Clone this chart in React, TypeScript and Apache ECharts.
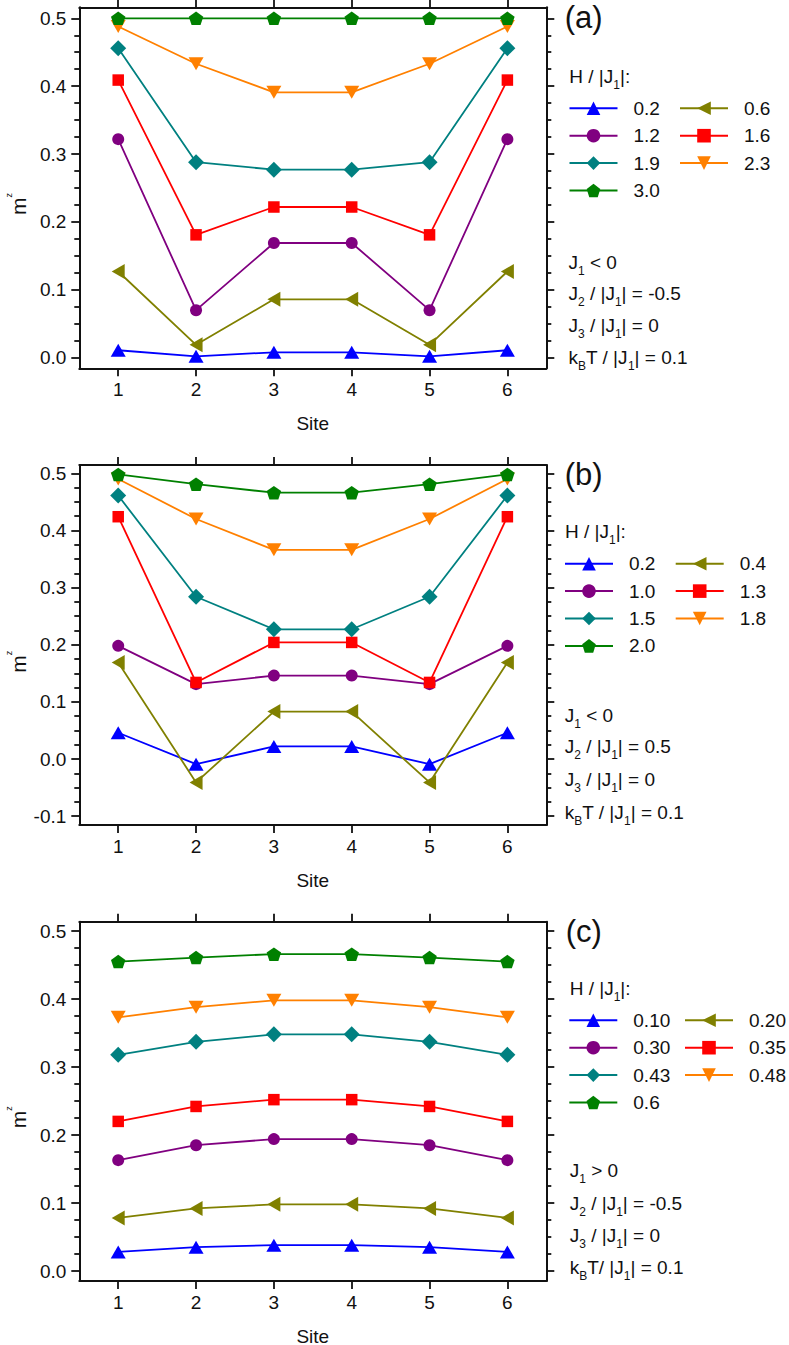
import React, { useEffect, useRef } from "react";
import * as echarts from "echarts";

const FONT = '"Liberation Sans", Arial, Helvetica, sans-serif';
const INK = "#111111";

// ---------- categories ----------
const sites = ["1", "2", "3", "4", "5", "6"];

// ---------- y tick labels ----------
const yTicksA = [0, 0.1, 0.2, 0.3, 0.4, 0.5];
const yTicksB = [-0.1, 0, 0.1, 0.2, 0.3, 0.4, 0.5];
const yTicksC = [0, 0.1, 0.2, 0.3, 0.4, 0.5];

// ---------- panel (a) : J1<0, J2/|J1| = -0.5 ----------
const namesA = ["0.2", "0.6", "1.2", "1.6", "1.9", "2.3", "3.0"];
const a_02 = [0.011, 0.002, 0.008, 0.008, 0.002, 0.011];
const a_06 = [0.127, 0.019, 0.086, 0.086, 0.019, 0.127];
const a_12 = [0.322, 0.070, 0.169, 0.169, 0.070, 0.322];
const a_16 = [0.409, 0.181, 0.222, 0.222, 0.181, 0.409];
const a_19 = [0.456, 0.288, 0.277, 0.277, 0.288, 0.456];
const a_23 = [0.488, 0.433, 0.391, 0.391, 0.433, 0.488];
const a_30 = [0.5, 0.5, 0.5, 0.5, 0.5, 0.5];

// ---------- panel (b) : J1<0, J2/|J1| = 0.5 ----------
const namesB = ["0.2", "0.4", "1.0", "1.3", "1.5", "1.8", "2.0"];
const b_02 = [0.046, -0.009, 0.022, 0.022, -0.009, 0.046];
const b_04 = [0.169, -0.041, 0.083, 0.083, -0.041, 0.169];
const b_10 = [0.198, 0.131, 0.146, 0.146, 0.131, 0.198];
const b_13 = [0.424, 0.134, 0.204, 0.204, 0.134, 0.424];
const b_15 = [0.461, 0.284, 0.227, 0.227, 0.284, 0.461];
const b_18 = [0.490, 0.420, 0.366, 0.366, 0.420, 0.490];
const b_20 = [0.498, 0.481, 0.466, 0.466, 0.481, 0.498];

// ---------- panel (c) : J1>0, J2/|J1| = -0.5 ----------
const namesC = ["0.10", "0.20", "0.30", "0.35", "0.43", "0.48", "0.6"];
const c_010 = [0.028, 0.035, 0.038, 0.038, 0.035, 0.028];
const c_020 = [0.078, 0.092, 0.098, 0.098, 0.092, 0.078];
const c_030 = [0.163, 0.185, 0.194, 0.194, 0.185, 0.163];
const c_035 = [0.220, 0.242, 0.252, 0.252, 0.242, 0.220];
const c_043 = [0.318, 0.337, 0.348, 0.348, 0.337, 0.318];
const c_048 = [0.373, 0.388, 0.398, 0.398, 0.388, 0.373];
const c_06 = [0.455, 0.461, 0.466, 0.466, 0.461, 0.455];

// ---------- texts ----------
const panelLabels = ["(a)", "(b)", "(c)"];
const legendTitle = "H / |J{s|1}|:";
const paramsA = ["J{s|1} < 0", "J{s|2} / |J{s|1}| = -0.5", "J{s|3} / |J{s|1}| = 0", "k{s|B}T / |J{s|1}| = 0.1"];
const paramsB = ["J{s|1} < 0", "J{s|2} / |J{s|1}| = 0.5", "J{s|3} / |J{s|1}| = 0", "k{s|B}T / |J{s|1}| = 0.1"];
const paramsC = ["J{s|1} > 0", "J{s|2} / |J{s|1}| = -0.5", "J{s|3} / |J{s|1}| = 0", "k{s|B}T/ |J{s|1}| = 0.1"];

// ---------- styles (index-aligned with series order) ----------
const PENTAGON = "path://M0,-1L0.951,-0.309L0.588,0.809L-0.588,0.809L-0.951,-0.309Z";
const seriesStyles = [
  { color: "#0000FF", symbol: "triangle", size: [15, 13], rotate: 0 },
  { color: "#808000", symbol: "triangle", size: [15, 13], rotate: 90 },
  { color: "#800080", symbol: "circle", size: 12, rotate: 0 },
  { color: "#FF0000", symbol: "rect", size: 11.5, rotate: 0 },
  { color: "#008080", symbol: "diamond", size: 16, rotate: 0 },
  { color: "#FF8000", symbol: "triangle", size: [15, 13], rotate: 180 },
  { color: "#008000", symbol: PENTAGON, size: [14.5, 13.5], rotate: 0 },
];

const panels = [
  {
    key: "a", names: namesA, values: [a_02, a_06, a_12, a_16, a_19, a_23, a_30], ticks: yTicksA, params: paramsA,
    top: 7.3, height: 361, min: -0.0156, max: 0.5162,
    legendLeft: [568.5, 679], legendTop: 98.8, titleX: 569.3, titleY: 76.7,
    paramX: 568.5, paramY: [262, 293, 325, 357], labelX: 564.7, labelY: 17.5, mY: 203.9,
  },
  {
    key: "b", names: namesB, values: [b_02, b_04, b_10, b_13, b_15, b_18, b_20], ticks: yTicksB, params: paramsB,
    top: 465, height: 360, min: -0.1155, max: 0.5145,
    legendLeft: [564, 674.7], legendTop: 554.2, titleX: 565, titleY: 531.7,
    paramX: 564.7, paramY: [715, 746.7, 779, 812.3], labelX: 564.7, labelY: 474, mY: 661.7,
  },
  {
    key: "c", names: namesC, values: [c_010, c_020, c_030, c_035, c_043, c_048, c_06], ticks: yTicksC, params: paramsC,
    top: 921.7, height: 359.3, min: -0.0147, max: 0.5137,
    legendLeft: [568.3, 684], legendTop: 1010.8, titleX: 569.7, titleY: 988.3,
    paramX: 569.7, paramY: [1170, 1203.3, 1235, 1267.3], labelX: 565.7, labelY: 931.4, mY: 1117.3,
  },
];

const GRID_LEFT = 79.3;
const GRID_WIDTH = 467;

function minorTicks(min: number, max: number): number[] {
  const out: number[] = [];
  for (let k = Math.ceil(min * 40); k <= Math.floor(max * 40); k++) {
    if (k % 4 !== 0) out.push(Math.round(k * 25) / 1000);
  }
  return out;
}

const axisLineStyle = { color: INK, width: 2 };
const tickLineStyle = { color: INK, width: 1.8 };
const labelText = { fontSize: 19, color: INK, fontFamily: FONT };
const subRich = { s: { fontSize: 12, padding: [17, 0, 0, 0], fontFamily: FONT, fill: INK } };

function buildOption() {
  const grid: any[] = [];
  const xAxis: any[] = [];
  const yAxis: any[] = [];
  const series: any[] = [];
  const legend: any[] = [];
  const graphic: any[] = [];

  panels.forEach((p, i) => {
    grid.push({ left: GRID_LEFT, top: p.top, width: GRID_WIDTH, height: p.height, outerBoundsMode: "none", containLabel: false });

    const catBase = {
      type: "category", gridIndex: i, data: sites, boundaryGap: true,
      axisLine: { show: true, onZero: false, lineStyle: axisLineStyle },
      axisTick: { show: true, inside: false, alignWithLabel: true, interval: 0, length: 8, lineStyle: tickLineStyle },
      splitLine: { show: false },
    };
    xAxis.push({
      ...catBase, position: "bottom",
      axisLabel: { show: true, interval: 0, margin: 12, ...labelText },
      name: "Site", nameLocation: "middle", nameGap: 45.5,
      nameTextStyle: { ...labelText },
    });
    xAxis.push({ ...catBase, position: "top", axisLabel: { show: false } });

    const minors = minorTicks(p.min, p.max);
    const valBase = {
      type: "value", gridIndex: i, min: p.min, max: p.max, splitLine: { show: false },
    };
    yAxis.push({
      ...valBase, position: "left",
      axisLine: { show: true, onZero: false, lineStyle: axisLineStyle },
      axisTick: { show: true, inside: false, length: 8, customValues: p.ticks, lineStyle: tickLineStyle },
      axisLabel: { show: true, customValues: p.ticks, margin: 13, formatter: (v: number) => v.toFixed(1), ...labelText },
    });
    yAxis.push({
      ...valBase, position: "left",
      axisLine: { show: false, onZero: false },
      axisTick: { show: true, inside: false, length: 5, customValues: minors, lineStyle: tickLineStyle },
      axisLabel: { show: false },
    });
    yAxis.push({
      ...valBase, position: "right",
      axisLine: { show: true, onZero: false, lineStyle: axisLineStyle },
      axisTick: { show: true, inside: false, length: 8, customValues: p.ticks, lineStyle: tickLineStyle },
      axisLabel: { show: false },
    });
    yAxis.push({
      ...valBase, position: "right",
      axisLine: { show: false, onZero: false },
      axisTick: { show: true, inside: false, length: 5, customValues: minors, lineStyle: tickLineStyle },
      axisLabel: { show: false },
    });

    const seriesNames = p.names.map((n) => p.key + ":" + n);
    p.values.forEach((vals, j) => {
      const st = seriesStyles[j];
      series.push({
        type: "line", name: seriesNames[j], xAxisIndex: 2 * i, yAxisIndex: 4 * i, data: vals,
        symbol: st.symbol, symbolSize: st.size, symbolRotate: st.rotate, showSymbol: true, showAllSymbol: true,
        lineStyle: { color: st.color, width: 1.8 }, itemStyle: { color: st.color, opacity: 1 },
        emphasis: { disabled: true }, z: 2 + j,
      });
    });

    const cols = [
      [seriesNames[0], seriesNames[2], seriesNames[4], seriesNames[6]],
      [seriesNames[1], seriesNames[3], seriesNames[5]],
    ];
    cols.forEach((d, c) => {
      legend.push({
        orient: "vertical", left: p.legendLeft[c], top: p.legendTop, padding: 0,
        itemGap: 8.4, itemWidth: 48, itemHeight: 17, selectedMode: false, data: d,
        formatter: (name: string) => name.split(":")[1],
        textStyle: { ...labelText, lineHeight: 17, padding: [0, 0, 0, 11] },
      });
    });

    graphic.push({
      type: "text", x: p.labelX, y: p.labelY, silent: true,
      style: { text: panelLabels[i], fontSize: 31, fontFamily: FONT, fill: INK, align: "left", verticalAlign: "middle" },
    });
    graphic.push({
      type: "text", x: p.titleX, y: p.titleY, silent: true,
      style: { text: legendTitle, fontSize: 19, fontFamily: FONT, fill: INK, align: "left", verticalAlign: "middle", rich: subRich },
    });
    p.params.forEach((t, k) => {
      graphic.push({
        type: "text", x: p.paramX, y: p.paramY[k], silent: true,
        style: { text: t, fontSize: 19, fontFamily: FONT, fill: INK, align: "left", verticalAlign: "middle", rich: subRich },
      });
    });
    graphic.push({
      type: "text", x: 16.5, y: p.mY, rotation: Math.PI / 2, silent: true,
      style: {
        text: "{m|m}{z|z}", fontSize: 21, fontFamily: FONT, fill: INK, align: "center", verticalAlign: "middle",
        rich: {
          m: { fontSize: 21, lineHeight: 25, verticalAlign: "bottom", fontFamily: FONT, fill: INK },
          z: { fontSize: 9, lineHeight: 9, verticalAlign: "top", fontFamily: FONT, fill: INK },
        },
      },
    });
  });

  return {
    animation: false,
    backgroundColor: "#ffffff",
    textStyle: { fontFamily: FONT, color: INK },
    grid, xAxis, yAxis, series, legend, graphic,
    tooltip: { show: false },
  };
}

export default function App() {
  const ref = useRef<HTMLDivElement>(null);
  useEffect(() => {
    if (!ref.current) return;
    const chart = echarts.init(ref.current, null, { renderer: "svg" });
    chart.setOption(buildOption() as any);
    return () => chart.dispose();
  }, []);
  return (
    <div
      ref={ref}
      style={{ position: "absolute", left: 0, top: 0, width: 789, height: 1345, background: "#fff" }}
    />
  );
}
